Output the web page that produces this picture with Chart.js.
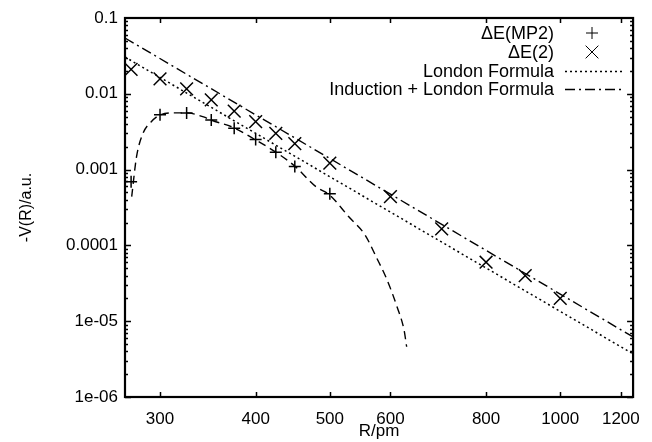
<!DOCTYPE html>
<html>
<head>
<meta charset="utf-8">
<script src="https://cdn.jsdelivr.net/npm/chart.js@4/dist/chart.umd.min.js"></script>
<style>
  html, body { margin: 0; padding: 0; background: #fff; }
  #wrap { width: 652px; height: 442px; }
</style>
</head>
<body>
<div id="wrap"><canvas id="chart" width="652" height="442"></canvas></div>
<script>
// data (R in pm, -V in a.u.)
const mp2R = [275, 300, 325, 350, 375, 400, 425, 450, 500];
const mp2V = [6.9e-4, 5.3e-3, 5.6e-3, 4.5e-3, 3.5e-3, 2.5e-3, 1.7e-3, 1.1e-3, 4.8e-4];

const e2R = [275, 300, 325, 350, 375, 400, 425, 450, 500, 600, 700, 800, 900, 1000];
const e2V = [0.021, 0.0157, 0.0116, 0.0083, 0.0059, 0.0043, 0.0030, 0.0022, 0.00122, 0.00044, 0.000165, 0.00006, 0.00004, 0.00002];

const londonR = [270, 1245];
const londonV = [0.0306, 3.7e-6];

const inductionR = [270, 1245];
const inductionV = [0.0545, 6.2e-6];

const fitR = [275.5, 279.5, 285, 292, 300, 314, 325, 342, 350, 375, 400, 425, 450, 480, 500, 529, 556, 575, 594, 612, 625, 630];
const fitV = [4.4e-4, 1.47e-3, 3.0e-3, 4.25e-3, 5.25e-3, 5.6e-3, 5.6e-3, 4.95e-3, 4.5e-3, 3.55e-3, 2.46e-3, 1.7e-3, 1.11e-3, 5.9e-4, 4.6e-4, 2.4e-4, 1.37e-4, 7.0e-5, 3.5e-5, 1.55e-5, 7.7e-6, 4.6e-6];

const xTicks = [300, 400, 500, 600, 800, 1000, 1200];
const yTicks = [1e-6, 1e-5, 1e-4, 1e-3, 1e-2, 1e-1];
const yLabels = ["1e-06", "1e-05", "0.0001", "0.001", "0.01", "0.1"];

const legendLabels = ["\u0394E(MP2)", "\u0394E(2)", "London Formula", "Induction + London Formula"];

const pts = (xs, ys) => xs.map((x, i) => ({ x: x, y: ys[i] }));

const FONT = "'Liberation Sans', Arial, Helvetica, sans-serif";

// frame + inward ticks like gnuplot
const framePlugin = {
	id: "frame",
	afterDatasetsDraw(chart) {
		const { ctx, chartArea: a, scales } = chart;
		ctx.save();
		ctx.strokeStyle = "#000";
		ctx.lineWidth = 1.5;
		ctx.setLineDash([]);
		ctx.beginPath();
		xTicks.forEach((v) => {
			const px = Math.round(scales.x.getPixelForValue(v)) + 0.5;
			ctx.moveTo(px, a.bottom);
			ctx.lineTo(px, a.bottom - 5);
			ctx.moveTo(px, a.top);
			ctx.lineTo(px, a.top + 5);
		});
		for (let d = -6; d < -1; d++) {
			for (let m = 1; m < 10; m++) {
				const v = m * Math.pow(10, d);
				const py = Math.round(scales.y.getPixelForValue(v)) + 0.5;
				const len = m === 1 ? 6 : 3;
				ctx.moveTo(a.left, py);
				ctx.lineTo(a.left + len, py);
				ctx.moveTo(a.right, py);
				ctx.lineTo(a.right - len, py);
			}
		}
		ctx.stroke();
		ctx.lineWidth = 2.2;
		ctx.strokeRect(a.left, a.top, a.right - a.left, a.bottom - a.top);
		ctx.restore();
	},
};

// gnuplot style key: text right aligned, sample on the right
const keyPlugin = {
	id: "key",
	afterDraw(chart) {
		const { ctx } = chart;
		const rows = [33, 52, 71, 89];
		const textX = 554;
		const s0 = 565, s1 = 625;
		ctx.save();
		ctx.font = "18px " + FONT;
		ctx.fillStyle = "#000";
		ctx.textAlign = "right";
		ctx.textBaseline = "middle";
		legendLabels.forEach((t, i) => {
			ctx.fillText(t, textX, rows[i] + 1);
		});
		const ds = chart.data.datasets;
		// markers
		[0, 1].forEach((i) => {
			Chart.helpers.drawPoint(ctx, {
				pointStyle: ds[i].pointStyle,
				radius: ds[i].pointRadius,
				borderWidth: ds[i].pointBorderWidth,
				rotation: 0,
			}, 592, rows[i]);
		});
		ctx.strokeStyle = "#000";
		[2, 3].forEach((i) => {
			ctx.lineWidth = ds[i].borderWidth;
			ctx.setLineDash(ds[i].borderDash);
			ctx.beginPath();
			ctx.moveTo(s0, rows[i] + 0.5);
			ctx.lineTo(s1, rows[i] + 0.5);
			ctx.stroke();
		});
		ctx.restore();
	},
};

new Chart(document.getElementById("chart"), {
	type: "scatter",
	data: {
		datasets: [
			{
				label: legendLabels[0],
				data: pts(mp2R, mp2V),
				showLine: false,
				pointStyle: "cross",
				pointRadius: 6,
				pointBorderWidth: 1.5,
				borderColor: "#000",
				backgroundColor: "#000",
				order: 0,
			},
			{
				label: legendLabels[1],
				data: pts(e2R, e2V),
				showLine: false,
				pointStyle: "crossRot",
				pointRadius: 9,
				pointBorderWidth: 1.5,
				borderColor: "#000",
				backgroundColor: "#000",
				order: 0,
			},
			{
				label: legendLabels[2],
				data: pts(londonR, londonV),
				showLine: true,
				pointRadius: 0,
				borderColor: "#000",
				borderWidth: 1.5,
				borderDash: [2, 3],
				order: 2,
			},
			{
				label: legendLabels[3],
				data: pts(inductionR, inductionV),
				showLine: true,
				pointRadius: 0,
				borderColor: "#000",
				borderWidth: 1.4,
				borderDash: [10, 4, 2, 4],
				order: 2,
			},
			{
				label: "fit",
				data: pts(fitR, fitV),
				showLine: true,
				pointRadius: 0,
				borderColor: "#000",
				borderWidth: 1.4,
				borderDash: [8, 5],
				cubicInterpolationMode: "monotone",
				order: 2,
			},
		],
	},
	options: {
		responsive: false,
		animation: false,
		layout: { padding: { top: 18, right: 7, left: 0, bottom: 0 } },
		plugins: {
			legend: { display: false },
			tooltip: { enabled: false },
		},
		scales: {
			x: {
				type: "logarithmic",
				min: 270,
				max: 1245,
				afterFit(s) {
					s.height = 45;
				},
				afterBuildTicks(s) {
					s.ticks = xTicks.map((v) => ({ value: v }));
				},
				ticks: {
					autoSkip: false,
					maxRotation: 0,
					padding: 12,
					color: "#000",
					font: { family: FONT, size: 17 },
					callback: (v) => String(v),
				},
				grid: { display: false, drawTicks: false },
				border: { display: false },
				title: {
					display: true,
					text: "R/pm",
					color: "#000",
					font: { family: FONT, size: 17 },
					padding: { top: 0, bottom: 0 },
				},
			},
			y: {
				type: "logarithmic",
				min: 1e-6,
				max: 0.1,
				afterFit(s) {
					s.width = 125;
				},
				afterBuildTicks(s) {
					s.ticks = yTicks.map((v) => ({ value: v }));
				},
				ticks: {
					autoSkip: false,
					padding: 7,
					color: "#000",
					font: { family: FONT, size: 17 },
					callback: (v) => yLabels[yTicks.findIndex((t) => Math.abs(t - v) / t < 1e-6)],
				},
				grid: { display: false, drawTicks: false },
				border: { display: false },
				title: {
					display: true,
					text: "-V(R)/a.u.",
					color: "#000",
					font: { family: FONT, size: 16 },
					padding: { top: 17, bottom: 0 },
				},
			},
		},
	},
	plugins: [framePlugin, keyPlugin],
});
</script>
</body>
</html>
